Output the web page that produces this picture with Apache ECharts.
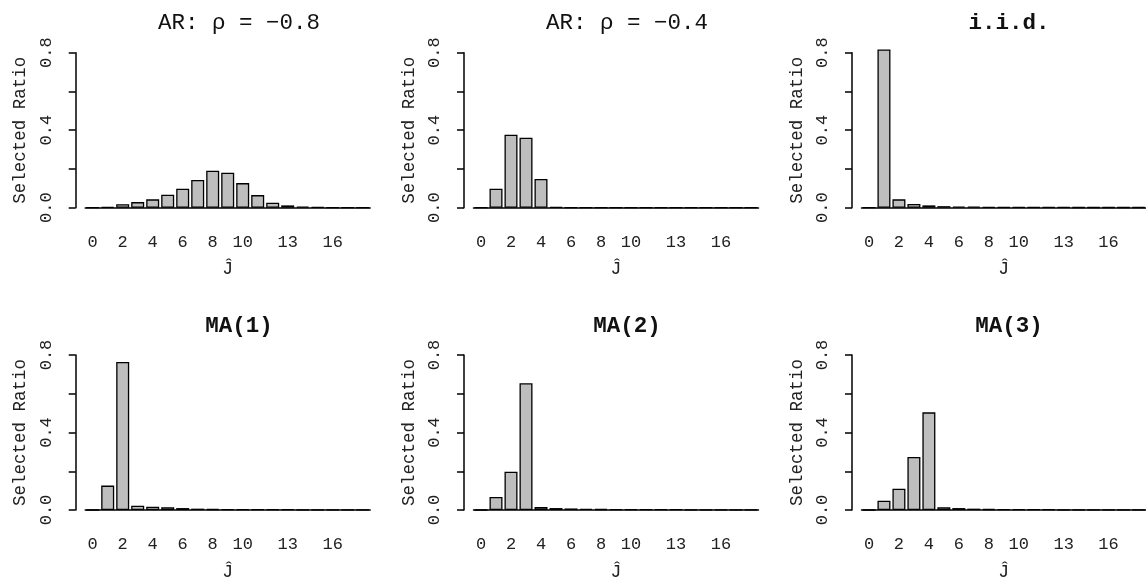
<!DOCTYPE html>
<html>
<head>
<meta charset="utf-8">
<script src="https://cdn.jsdelivr.net/npm/echarts@6/dist/echarts.min.js"></script>
<style>
  html, body { margin: 0; padding: 0; background: #fff; }
  #main { width: 1146px; height: 583px; }
</style>
</head>
<body>
<div id="main"></div>
<script>
// categories of J-hat and the labels R kept after dropping overlaps
var categories = ["0", "1", "2", "3", "4", "5", "6", "7", "8", "9", "10", "11", "12", "13", "14", "15", "16", "17", "18"];
var shownLabels = ["0", "2", "4", "6", "8", "10", "13", "16"];
var yLabels = [0, 0.4, 0.8];

var titles = ["AR: \u03c1 = \u22120.8", "AR: \u03c1 = \u22120.4", "i.i.d.", "MA(1)", "MA(2)", "MA(3)"];
var boldTitle = [false, false, true, true, true, true];

// selected ratio for each J-hat
var ar08 = [0, 0.004, 0.018, 0.029, 0.043, 0.067, 0.098, 0.143, 0.191, 0.181, 0.127, 0.065, 0.026, 0.012, 0.006, 0.003, 0.001, 0.001, 0];
var ar04 = [0, 0.098, 0.377, 0.361, 0.148, 0.004, 0.001, 0, 0, 0, 0, 0, 0, 0, 0, 0, 0, 0, 0];
var iid = [0, 0.817, 0.043, 0.019, 0.012, 0.008, 0.006, 0.005, 0.004, 0.003, 0.003, 0.003, 0.003, 0.003, 0.002, 0.002, 0.002, 0.002, 0.002];
var ma1 = [0, 0.126, 0.764, 0.022, 0.017, 0.014, 0.010, 0.007, 0.005, 0.004, 0.004, 0.003, 0.003, 0.003, 0.002, 0.002, 0.002, 0.002, 0.001];
var ma2 = [0, 0.067, 0.198, 0.654, 0.015, 0.010, 0.008, 0.006, 0.005, 0.004, 0.003, 0.003, 0.003, 0.003, 0.002, 0.002, 0.002, 0.001, 0.001];
var ma3 = [0, 0.048, 0.110, 0.274, 0.504, 0.014, 0.010, 0.007, 0.005, 0.004, 0.004, 0.003, 0.003, 0.002, 0.002, 0.002, 0.002, 0.001, 0.001];
var seriesData = [ar08, ar04, iid, ma1, ma2, ma3];

function drawPanels() {
  var dom = document.getElementById("main");
  var myChart = echarts.init(dom, null, { renderer: "canvas" });

  var font = "'Liberation Mono', 'DejaVu Sans Mono', monospace";
  var colLeft = [85.2, 473.5, 861.5];
  var titleX = [234, 622, 1004];
  var rowTop = [52.7, 355];
  var titleTop = [7, 310];

  var grids = [], xAxes = [], yAxes = [], series = [], title = [];

  for (var i = 0; i < 6; i++) {
    var col = i % 3;
    var row = Math.floor(i / 3);

    grids.push({ left: colLeft[col], top: rowTop[row], width: 285, height: 155 });

    title.push({
      text: titles[i],
      left: titleX[col],
      top: titleTop[row],
      textAlign: "center",
      textStyle: {
        fontFamily: font,
        fontSize: 22.5,
        fontWeight: boldTitle[i] ? "bold" : "normal",
        color: "#111",
      },
    });

    xAxes.push({
      type: "category",
      gridIndex: i,
      data: categories,
      boundaryGap: true,
      name: "\u0134",
      nameLocation: "middle",
      nameGap: 53,
      nameTextStyle: { fontFamily: font, fontSize: 18, color: "#222" },
      axisLine: { onZero: false, lineStyle: { color: "#000", width: 1.5 } },
      axisTick: { alignWithLabel: true, interval: 0, length: 5, lineStyle: { color: "#000", width: 1.5 } },
      axisLabel: {
        interval: 0,
        margin: 26,
        fontFamily: font,
        fontSize: 17,
        color: "#222",
        formatter: function (v) {
          return shownLabels.indexOf(v) >= 0 ? v : "";
        },
      },
      splitLine: { show: false },
    });

    yAxes.push({
      type: "value",
      gridIndex: i,
      min: 0,
      max: 0.8,
      interval: 0.2,
      offset: 9.5,
      name: "Selected Ratio",
      nameLocation: "middle",
      nameRotate: 90,
      nameGap: 46,
      nameTextStyle: { fontFamily: font, fontSize: 17.5, color: "#222" },
      axisLine: { show: true, lineStyle: { color: "#000", width: 1.5 } },
      axisTick: { show: true, length: 7, lineStyle: { color: "#000", width: 1.5 } },
      axisLabel: {
        rotate: 90,
        margin: 21,
        fontFamily: font,
        fontSize: 17,
        color: "#222",
        formatter: function (v) {
          for (var k = 0; k < yLabels.length; k++) {
            if (Math.abs(yLabels[k] - v) < 1e-6) return v.toFixed(1);
          }
          return "";
        },
      },
      splitLine: { show: false },
    });

    series.push({
      type: "bar",
      xAxisIndex: i,
      yAxisIndex: i,
      data: seriesData[i],
      barWidth: 13,
      clip: false,
      itemStyle: { color: "#bebebe", borderColor: "#000", borderWidth: 1.3 },
      silent: true,
      animation: false,
    });
  }

  var option = {
    animation: false,
    title: title,
    grid: grids,
    xAxis: xAxes,
    yAxis: yAxes,
    series: series,
  };

  if (option && typeof option === "object") {
    myChart.setOption(option);
  }
  window.addEventListener("resize", myChart.resize);
}

drawPanels();
</script>
</body>
</html>
